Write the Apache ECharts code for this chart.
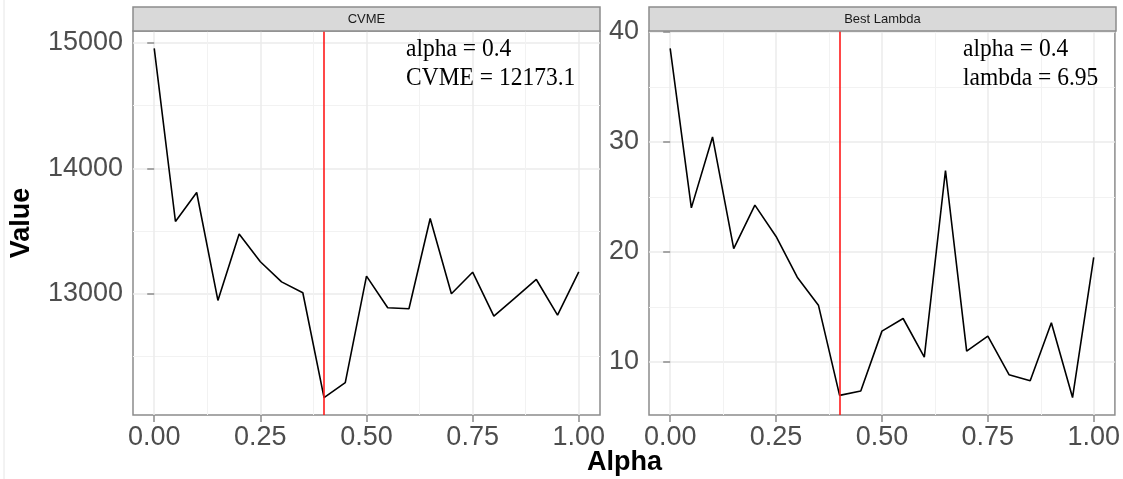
<!DOCTYPE html>
<html>
<head>
<meta charset="utf-8">
<script src="https://cdn.jsdelivr.net/npm/echarts@6/dist/echarts.min.js"></script>
<style>
  html, body { margin: 0; padding: 0; background: #fff; }
  #chart { width: 1123px; height: 479px; }
</style>
</head>
<body>
<div id="chart"></div>
<script>
  // alpha grid of the elastic net search
  var alphas = [0, 0.05, 0.1, 0.15, 0.2, 0.25, 0.3, 0.35, 0.4, 0.45, 0.5,
    0.55, 0.6, 0.65, 0.7, 0.75, 0.8, 0.85, 0.9, 0.95, 1];
  var cvme = [14955, 13576, 13807, 12947, 13477, 13255, 13095, 13008, 12173.1, 12292, 13141,
    12889, 12881, 13600, 13000, 13172, 12822, 12968, 13114, 12830, 13175];
  var bestLambda = [38.5, 24.0, 30.45, 20.3, 24.25, 21.4, 17.7, 15.15, 6.95, 7.34, 12.79,
    13.94, 10.43, 27.4, 10.97, 12.34, 8.83, 8.27, 13.55, 6.75, 19.49];
  var panelNames = ["CVME", "Best Lambda"];
  var xTicks = [0, 0.25, 0.5, 0.75, 1];
  var xMinor = [0.125, 0.375, 0.625, 0.875];
  var cvmeTicks = [13000, 14000, 15000];
  var cvmeMinor = [12500, 13500, 14500];
  var lambdaTicks = [10, 20, 30, 40];
  var lambdaMinor = [15, 25, 35];
  var bestAlpha = 0.4;
  var bestCvme = 12173.1;
  var bestLam = 6.95;

  // ggplot style 5% padding of the data range
  function expand(arr) {
    var lo = Math.min.apply(null, arr), hi = Math.max.apply(null, arr);
    var pad = (hi - lo) * 0.05;
    return [lo - pad, hi + pad];
  }
  var xr = expand(alphas);
  var yr = [expand(cvme), expand(bestLambda)];

  var labelFont = { fontSize: 27, color: "#4D4D4D", fontFamily: "Liberation Sans" };
  var grids = [
    { left: 133, top: 31, width: 467, height: 384 },
    { left: 649, top: 31, width: 467, height: 384 }
  ];
  grids.forEach(function (g) {
    g.show = true;
    g.borderColor = "#8c8c8c";
    g.borderWidth = 1.5;
    g.backgroundColor = "#fff";
  });

  function mainX(gi) {
    return {
      type: "value", gridIndex: gi, min: xr[0], max: xr[1],
      axisLine: { show: false },
      axisTick: { show: true, customValues: xTicks, length: 7, lineStyle: { color: "#8c8c8c", width: 1.5 } },
      axisLabel: Object.assign({ customValues: xTicks, margin: 9,
        formatter: function (v) { return v.toFixed(2); } }, labelFont),
      splitLine: { show: true, lineStyle: { color: "#EBEBEB", width: 1.5 } }
    };
  }
  function minorX(gi) {
    return {
      type: "value", gridIndex: gi, min: xr[0], max: xr[1], position: "bottom",
      axisLine: { show: false }, axisLabel: { show: false },
      axisTick: { show: false, customValues: xMinor },
      splitLine: { show: true, lineStyle: { color: "#F2F2F2", width: 1 } }
    };
  }
  function mainY(gi, ticks) {
    return {
      type: "value", gridIndex: gi, min: yr[gi][0], max: yr[gi][1],
      axisLine: { show: false },
      axisTick: { show: true, customValues: ticks, length: 7, lineStyle: { color: "#8c8c8c", width: 1.5 } },
      axisLabel: Object.assign({ customValues: ticks, margin: 10,
        formatter: function (v) { return String(v); } }, labelFont),
      splitLine: { show: true, lineStyle: { color: "#EBEBEB", width: 1.5 } }
    };
  }
  function minorY(gi, ticks) {
    return {
      type: "value", gridIndex: gi, min: yr[gi][0], max: yr[gi][1], position: "left",
      axisLine: { show: false }, axisLabel: { show: false },
      axisTick: { show: false, customValues: ticks },
      splitLine: { show: true, lineStyle: { color: "#F2F2F2", width: 1 } }
    };
  }

  function lineSeries(gi, values) {
    return {
      type: "line", xAxisIndex: gi, yAxisIndex: gi,
      data: alphas.map(function (a, i) { return [a, values[i]]; }),
      showSymbol: false, silent: true,
      lineStyle: { color: "#000", width: 1.6 },
      markLine: {
        silent: true, symbol: "none", animation: false,
        label: { show: false },
        lineStyle: { color: "#FF1A1A", width: 1.6, type: "solid" },
        data: [{ xAxis: bestAlpha }]
      }
    };
  }

  var serif = "'Liberation Serif', 'Times New Roman', serif";
  var noteFont = "23.5px " + serif;
  function note(x, y, text) {
    return { type: "text", x: x, y: y, scaleY: 1.1,
      style: { text: text, font: noteFont, fill: "#000", textVerticalAlign: "middle" } };
  }
  var graphic = [
    { type: "line", shape: { x1: 4, y1: 0, x2: 4, y2: 479 }, style: { stroke: "#e6e6e6", lineWidth: 1 } },
    { type: "text", x: 22, y: 223, rotation: Math.PI / 2,
      style: { text: "Value", font: "bold 27px 'Liberation Sans'", fill: "#000", textAlign: "center", textVerticalAlign: "middle" } },
    { type: "text", x: 624.5, y: 463,
      style: { text: "Alpha", font: "bold 27px 'Liberation Sans'", fill: "#000", textAlign: "center", textVerticalAlign: "middle" } },
    note(406, 49.5, "alpha = " + bestAlpha),
    note(406, 78, "CVME = " + bestCvme),
    note(963, 49.5, "alpha = " + bestAlpha),
    note(963, 78, "lambda = " + bestLam)
  ];
  // facet strips
  grids.forEach(function (g, i) {
    graphic.push({ type: "rect", shape: { x: g.left, y: 7, width: g.width, height: 24 },
      style: { fill: "#D9D9D9", stroke: "#8c8c8c", lineWidth: 1.5 } });
    graphic.push({ type: "text", x: g.left + g.width / 2, y: 19.5,
      style: { text: panelNames[i], font: "13px 'Liberation Sans'", fill: "#1A1A1A", textAlign: "center", textVerticalAlign: "middle" } });
  });
  graphic.forEach(function (el) { el.z = 100; });

  var chart = echarts.init(document.getElementById("chart"));
  chart.setOption({
    animation: false,
    backgroundColor: "#fff",
    grid: grids,
    xAxis: [mainX(0), mainX(1), minorX(0), minorX(1)],
    yAxis: [mainY(0, cvmeTicks), mainY(1, lambdaTicks), minorY(0, cvmeMinor), minorY(1, lambdaMinor)],
    series: [lineSeries(0, cvme), lineSeries(1, bestLambda)],
    graphic: graphic
  });
</script>
</body>
</html>
